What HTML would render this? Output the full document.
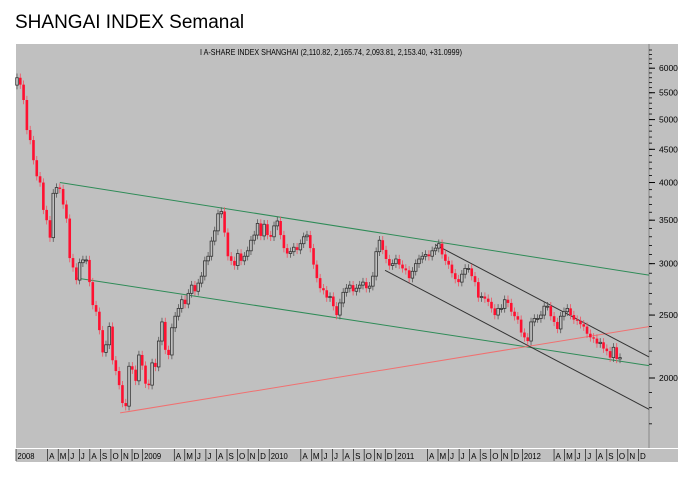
<!DOCTYPE html>
<html><head><meta charset="utf-8"><style>
html,body{margin:0;padding:0;background:#fff;width:700px;height:481px;overflow:hidden}
svg{display:block;font-family:"Liberation Sans",Arial,sans-serif}
</style></head><body>
<svg id="chart" width="700" height="481">
<text x="15" y="28" font-size="19" fill="#000">SHANGAI INDEX Semanal</text>
<rect x="16" y="44" width="662" height="418" fill="#c0c0c0"/>
<text x="331" y="55" font-size="8.5" text-anchor="middle" textLength="262" lengthAdjust="spacingAndGlyphs" fill="#000">I A-SHARE INDEX SHANGHAI (2,110.82, 2,165.74, 2,093.81, 2,153.40, +31.0999)</text>
<line x1="649" y1="44" x2="649" y2="448" stroke="#888" stroke-width="1"/>
<line x1="16" y1="448.5" x2="678" y2="448.5" stroke="#fff" stroke-width="1"/>
<g id="yaxis"></g>
<g id="xaxis"></g>
<g id="trend"></g>
<g id="candles"></g>
</svg>
<script>
const closes=[5800,5660,5360,4818,4650,4330,4090,
4000,3630,3500,3290,3850,3930,3910,3700,3520,3060,2960,2830,3010,3040,3040,2810,2590,2530,2370,2190,2250,2400,2130,2050,1950,1830,1810,2085,2060,1980,2170,2090,1960,1950,2110,2080,2280,2440,2210,2170,2390,2490,2560,2640,2600,2700,2780,2720,2800,2870,3030,3080,3250,3370,3580,3610,3350,3080,3030,2980,3110,3030,3080,3140,3260,3320,3460,3310,3450,3320,3300,3430,3490,3320,3170,3110,3130,3180,3150,3220,3300,3320,3170,2990,2850,2750,2730,2660,2670,2580,2500,2610,2710,2750,2780,2720,2750,2780,2810,2750,2770,2870,3130,3260,3150,3050,2980,3000,3050,2990,2950,2930,2850,2920,3000,3050,3080,3100,3080,3140,3170,3220,3100,3030,2990,2900,2840,2810,2890,2950,2950,2870,2810,2660,2670,2650,2620,2560,2500,2560,2560,2640,2610,2530,2490,2460,2350,2310,2280,2440,2470,2470,2500,2580,2580,2490,2440,2380,2490,2530,2560,2500,2460,2450,2420,2400,2340,2310,2300,2260,2270,2220,2200,2150,2230,2140,2150];
const firstOpen=5650;
const yTicks=[2000,2500,3000,3500,4000,4500,5000,5500,6000];
const months=["2008","J","F","M","A","M","J","J","A","S","O","N","D"];
const years=["2008","2009","2010","2011","2012"];
const trendUpperGreen=[[13,4000],[191.8,2880]];
const trendLowerGreen=[[18.2,2850],[191.8,2090]];
const trendRed=[[31.3,1767],[191.8,2400]];
const trendBlackUpper=[[126.9,3210],[191.8,2155]];
const trendBlackLower=[[111.7,2930],[191.8,1790]];

const NS="http://www.w3.org/2000/svg";
const x0=17,xEnd=620,N=closes.length;
function X(i){return x0+i*(xEnd-x0)/(N-1);}
function Y(v){return 378-282*Math.log(v/2000);}
function mk(t,a,p){const e=document.createElementNS(NS,t);for(const k in a)e.setAttribute(k,a[k]);p.appendChild(e);return e;}
const ya=document.getElementById('yaxis');
for(let v=1700;v<=6400;v+=100){const y=Y(v);if(y<44||y>448)continue;
 const t=mk('line',{x1:649,x2:652,y1:y,y2:y,stroke:'#000','stroke-width':0.8},ya);
 
 }
yTicks.forEach(v=>{const y=Y(v);
 const t=mk('line',{x1:649,x2:655,y1:y,y2:y,stroke:'#000','stroke-width':1},ya);
 
 
 const l=mk('text',{x:659,y:y+3,'font-size':8.5,fill:'#000'},ya);l.textContent=v;
 
 });
const xa=document.getElementById('xaxis');
const mw=10.55;
for(let m=0;m<60;m++){const yr=Math.floor(m/12),mo=m%12;
 if(mo===1||mo===2)continue;
 const x=16+m*mw;
 const t=mk('line',{x1:x,x2:x,y1:449,y2:461,stroke:'#000','stroke-width':0.6},xa);
 
 
 const l=mk('text',{x:x+1.5,y:459,'font-size':8,fill:'#000'},xa);
 l.textContent=mo===0?years[yr]:months[mo+1];
 if(mo===0){l.setAttribute('textLength','17');l.setAttribute('lengthAdjust','spacingAndGlyphs');}
 
 }
const tg=document.getElementById('trend');
function tl(seg,color,name){const a=mk('line',{x1:X(seg[0][0]),y1:Y(seg[0][1]),x2:X(seg[1][0]),y2:Y(seg[1][1]),stroke:color,'stroke-width':1},tg);
 
 }
tl(trendUpperGreen,'#2e8b57','upper-green-trendline');
tl(trendLowerGreen,'#2e8b57','lower-green-trendline');
tl(trendRed,'#f07070','red-support-line');
tl(trendBlackUpper,'#333','upper-channel-line');
tl(trendBlackLower,'#333','lower-channel-line');
const cg=document.getElementById('candles');
let prev=firstOpen;
closes.forEach((c,i)=>{const o=prev;prev=c;const up=c>=o;
 const hi=Math.max(o,c)*1.015,lo=Math.min(o,c)*0.985;const x=X(i);
 const col=up?'#333':'#ff1030';
 const w=mk('line',{x1:x,x2:x,y1:Y(hi),y2:Y(lo),stroke:up?'#555':'#f05060','stroke-width':0.8},cg);
 
 
 const yt=Y(Math.max(o,c)),yb=Y(Math.min(o,c));
 const r=mk('rect',{x:x-1.3,y:yt,width:2.6,height:Math.max(1,yb-yt),fill:up?'#c0c0c0':'#ff1030',stroke:col,'stroke-width':up?0.8:0},cg);
 
 });
</script>
</body></html>
